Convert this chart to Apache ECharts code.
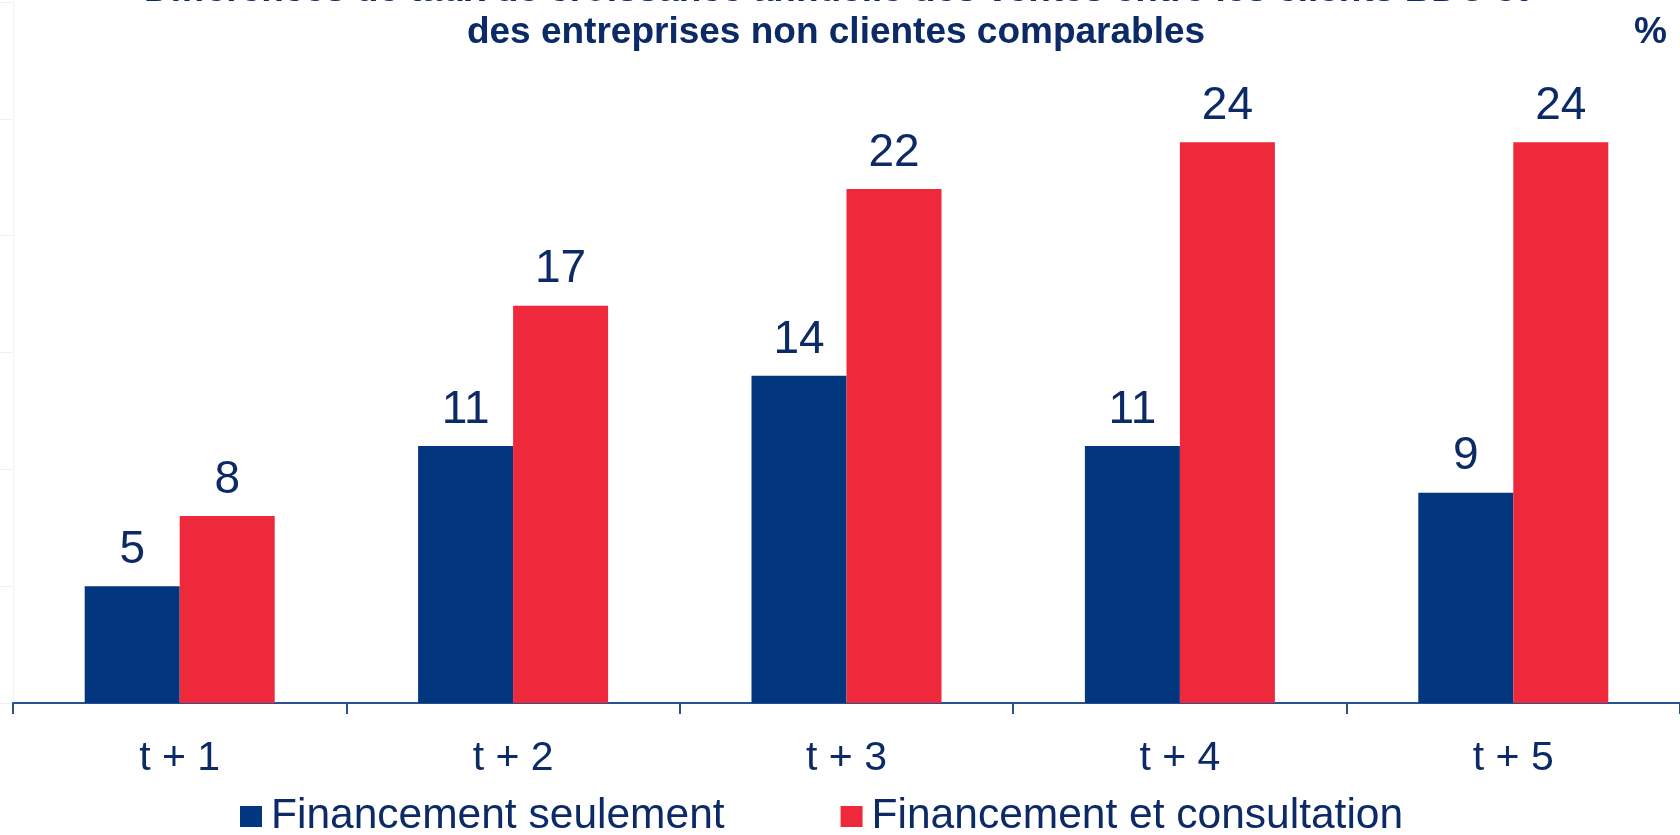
<!DOCTYPE html>
<html><head><meta charset="utf-8">
<script src="https://cdn.jsdelivr.net/npm/echarts@6/dist/echarts.min.js"></script>
<style>html,body{margin:0;padding:0;background:#fff}#c{width:1680px;height:835px}</style>
</head><body><div id="c"></div>
<script>
const categories = ['t + 1', 't + 2', 't + 3', 't + 4', 't + 5'];
const financementSeulement = [5, 11, 14, 11, 9];
const financementConsultation = [8, 17, 22, 24, 24];
const seriesNames = ['Financement seulement', 'Financement et consultation'];
const titleLines = ['Différences de taux de croissance annuelle des ventes entre les clients BDC et', 'des entreprises non clientes comparables'];
const unitLabel = '%';

const FONT = '"Liberation Sans", Arial, sans-serif';
const TEXT = '#0b2a66';
const BLUE = '#02367e';
const RED = '#ee293b';

const chart = echarts.init(document.getElementById('c'));
chart.setOption({
  backgroundColor: '#fff',
  animation: false,
  textStyle: { fontFamily: FONT },
  title: [
    { text: titleLines.join('\n'), left: 836, textAlign: 'center', top: -30, padding: 0,
      textStyle: { fontFamily: FONT, fontSize: 37, fontWeight: 'bold', color: TEXT, lineHeight: 42 } },
    { text: unitLabel, left: 1634, top: 12, padding: 0,
      textStyle: { fontFamily: FONT, fontSize: 37, fontWeight: 'bold', color: TEXT, lineHeight: 42 } }
  ],
  legend: {
    left: 240, top: 795, padding: 0, itemWidth: 22, itemHeight: 21, itemGap: 116, icon: 'rect',
    textStyle: { fontFamily: FONT, fontSize: 42.5, color: TEXT, padding: [0, 0, 0, 4] },
    data: seriesNames
  },
  grid: { left: 13, right: -3, top: 2, bottom: 132, containLabel: false },
  xAxis: {
    type: 'category', data: categories,
    axisLine: { lineStyle: { color: '#2a5094', width: 2 } },
    axisTick: { show: true, length: 11, lineStyle: { color: '#2a5094', width: 2 } },
    axisLabel: { fontFamily: FONT, fontSize: 41, color: TEXT, margin: 35 }
  },
  yAxis: {
    type: 'value', min: 0, max: 30, interval: 5,
    axisLine: { show: true, lineStyle: { color: '#f2f2f2', width: 1 } },
    axisTick: { show: true, length: 13, lineStyle: { color: '#f0f0f0' } },
    axisLabel: { show: false },
    splitLine: { show: false }
  },
  series: [
    { name: seriesNames[0], type: 'bar', data: financementSeulement, barWidth: 95, barGap: '0%',
      itemStyle: { color: BLUE },
      label: { show: true, position: 'top', distance: 13, fontFamily: FONT, fontSize: 46, color: TEXT } },
    { name: seriesNames[1], type: 'bar', data: financementConsultation, barWidth: 95, barGap: '0%',
      itemStyle: { color: RED },
      label: { show: true, position: 'top', distance: 13, fontFamily: FONT, fontSize: 46, color: TEXT } }
  ]
});
</script></body></html>
